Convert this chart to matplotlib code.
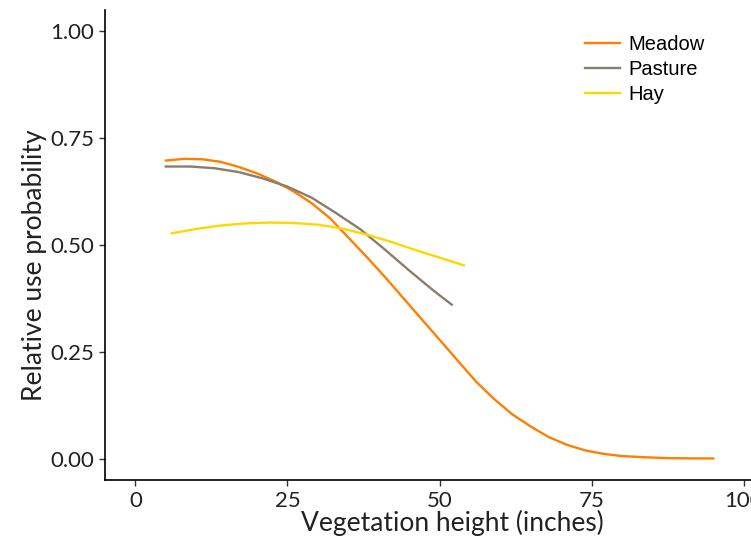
import matplotlib
matplotlib.use("Agg")
from matplotlib import pyplot as plt

# Kurvenwerte
meadow_x = [5, 8, 11, 14, 17, 20, 23, 26, 29, 32, 35, 38, 41, 44, 47, 50, 53, 56, 59, 62,
            65, 68, 71, 74, 77, 80, 84, 88, 92, 95]
meadow_y = [0.697, 0.701, 0.700, 0.694, 0.682, 0.667, 0.648, 0.625, 0.597, 0.562, 0.517,
            0.472, 0.425, 0.376, 0.327, 0.278, 0.229, 0.180, 0.139, 0.103, 0.075, 0.050,
            0.032, 0.019, 0.011, 0.006, 0.003, 0.001, 0.0005, 0.0003]

pasture_x = [5, 9, 13, 17, 21, 25, 29, 33, 37, 41, 45, 49, 52]
pasture_y = [0.683, 0.683, 0.679, 0.670, 0.655, 0.636, 0.610, 0.574, 0.536, 0.489, 0.440, 0.393, 0.360]

hay_x = [6, 10, 14, 18, 22, 26, 30, 34, 38, 42, 46, 50, 54]
hay_y = [0.527, 0.537, 0.545, 0.550, 0.552, 0.551, 0.547, 0.538, 0.524, 0.507, 0.488, 0.470, 0.452]

x_ticks = [0, 25, 50, 75, 100]
y_ticks = [0.0, 0.25, 0.50, 0.75, 1.00]
y_tick_labels = ["0.00", "0.25", "0.50", "0.75", "1.00"]

fig = plt.figure(figsize=(7.51, 5.41), dpi=100)
ax = fig.add_axes([105 / 751, 61 / 541, 1 - 105 / 751, 470 / 541])

ax.plot(meadow_x, meadow_y, color="#FF7F00", lw=1.7, label="Meadow")
ax.plot(pasture_x, pasture_y, color="#8B7D6B", lw=1.7, label="Pasture")
ax.plot(hay_x, hay_y, color="#FFD700", lw=1.7, label="Hay")

ax.set_xlim(-5, 101.2)
ax.set_ylim(-0.05, 1.049)
ax.set_xticks(x_ticks)
ax.set_yticks(y_ticks)
ax.set_yticklabels(y_tick_labels)

for s in ["top", "right"]:
    ax.spines[s].set_visible(False)
for s in ["left", "bottom"]:
    ax.spines[s].set_linewidth(1.2)
    ax.spines[s].set_color("black")

ax.tick_params(axis="both", length=4, width=1, color="#333333", labelsize=16,
               labelcolor="#222222", pad=4)
for lab in ax.get_xticklabels() + ax.get_yticklabels():
    lab.set_family("Lato")

ax.set_xlabel("Vegetation height (inches)", family="Lato", fontsize=19, color="#222222")
ax.set_ylabel("Relative use probability", family="Lato", fontsize=19, color="#222222")
# Achsentitel etwas verschoben wie im Original
ax.xaxis.set_label_coords((452 - 105) / 646, -(523 - 480) / 470)
ax.xaxis.label.set_va("center")
ax.yaxis.set_label_coords(-(105 - 35) / 646, (480 - 265) / 470)
ax.yaxis.label.set_va("center")

leg = ax.legend(loc="upper left", bbox_to_anchor=(567 / 751, 1 - 17 / 541),
                bbox_transform=fig.transFigure, frameon=False,
                prop={"family": "Liberation Sans", "size": 14.5},
                handlelength=1.75, handletextpad=0.4, labelspacing=0.3)

fig.savefig("out.png", dpi=100)
